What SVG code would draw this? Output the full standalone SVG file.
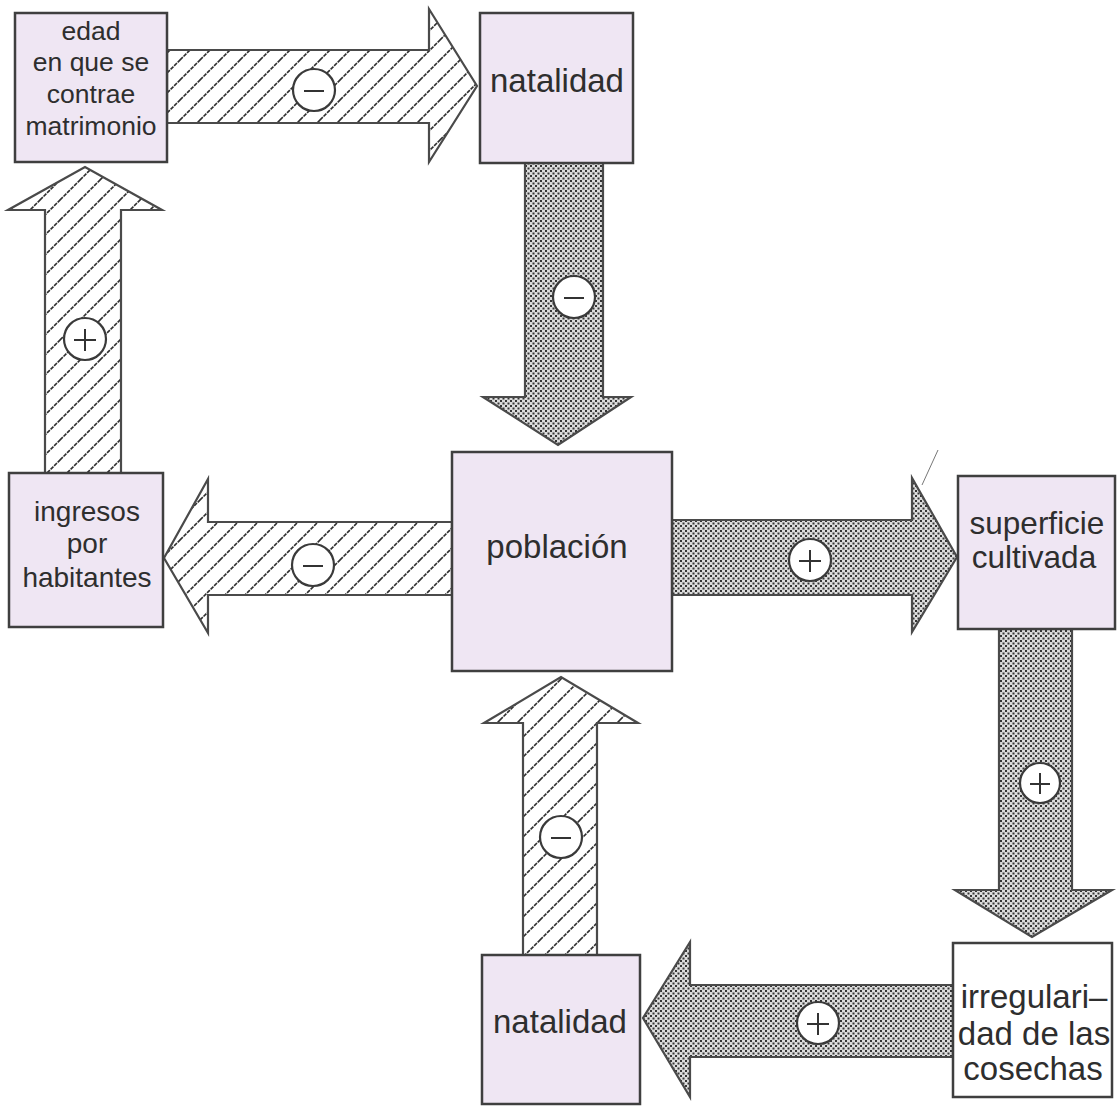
<svg xmlns="http://www.w3.org/2000/svg" width="1117" height="1106" viewBox="0 0 1117 1106">
  <defs>
    <!-- diagonal hatching for negative-effect arrows -->
    <pattern id="hatch" patternUnits="userSpaceOnUse" width="20" height="20">
      <rect width="20" height="20" fill="#ffffff"/>
      <path d="M-5,5 L5,-5 M0,20 L20,0 M15,25 L25,15" stroke="#2f2f2f" stroke-width="1.6" stroke-dasharray="4 1"/>
    </pattern>
    <!-- dotted screen for positive-effect arrows -->
    <pattern id="dots" patternUnits="userSpaceOnUse" width="5" height="5">
      <rect width="5" height="5" fill="#dcdcdc"/>
      <rect x="0" y="0" width="2" height="2" fill="#353535"/>
      <rect x="2.5" y="2.5" width="2" height="2" fill="#353535"/>
    </pattern>
    <style>
      .box { fill: #efe6f3; stroke: #3f3f3f; stroke-width: 2.5; }
      .box.plain { fill: #ffffff; }
      .lbl { font-family: "Liberation Sans", Arial, sans-serif; fill: #2e2e2e; text-anchor: middle; }
      .arrow { stroke: #4a4a4a; stroke-width: 2.2; stroke-linejoin: miter; }
      .hatched { fill: url(#hatch); }
      .dotted { fill: url(#dots); }
      .sign circle { fill: #ffffff; stroke: #3a3a3a; stroke-width: 2.2; }
      .sign path { stroke: #333333; stroke-width: 2; fill: none; }
    </style>
  </defs>

  <rect width="1117" height="1106" fill="#ffffff"/>

  <!-- connectors: broad arrows with their sign discs -->
  <g id="connectors">
    <!-- edad -> natalidad (top) -->
    <polygon class="arrow hatched" points="167,50 429,50 429,9 477,86 429,162 429,123 167,123"/>
    <!-- natalidad (top) -> poblacion -->
    <polygon class="arrow dotted" points="525,163 603,163 603,397 631,397 558,445 483,397 525,397"/>
    <!-- poblacion -> superficie cultivada -->
    <polygon class="arrow dotted" points="672,520 912,520 912,478 957,557 912,632 912,595 672,595"/>
    <!-- superficie cultivada -> irregularidad -->
    <polygon class="arrow dotted" points="999,629 1072,629 1072,890 1112,890 1032,937 955,890 999,890"/>
    <!-- irregularidad -> natalidad (bottom) -->
    <polygon class="arrow dotted" points="953,985 690,985 690,942 643,1018 690,1097 690,1057 953,1057"/>
    <!-- natalidad (bottom) -> poblacion -->
    <polygon class="arrow hatched" points="523,955 523,723 484,723 561,677 638,723 597,723 597,955"/>
    <!-- poblacion -> ingresos -->
    <polygon class="arrow hatched" points="452,522 208,522 208,479 164,558 208,633 208,595 452,595"/>
    <!-- ingresos -> edad -->
    <polygon class="arrow hatched" points="45,473 45,210 8,210 85,167 162,210 121,210 121,473"/>

    <g class="sign"><circle cx="314" cy="90" r="21"/><path d="M304,91 H324"/></g>
    <g class="sign"><circle cx="574" cy="297" r="21"/><path d="M564,298 H584"/></g>
    <g class="sign"><circle cx="810" cy="560" r="21"/><path d="M799,561 H821 M810,550 V572"/></g>
    <g class="sign"><circle cx="1040" cy="783" r="20"/><path d="M1030,784 H1050 M1040,773 V794"/></g>
    <g class="sign"><circle cx="818" cy="1023" r="21"/><path d="M807,1024 H829 M818,1013 V1035"/></g>
    <g class="sign"><circle cx="561" cy="837" r="21"/><path d="M551,838 H571"/></g>
    <g class="sign"><circle cx="313" cy="565" r="21"/><path d="M303,566 H323"/></g>
    <g class="sign"><circle cx="85" cy="339" r="21"/><path d="M74,340 H96 M85,329 V351"/></g>

    <!-- stray pen stroke above the right arrow head -->
    <path d="M922,485 L938,450" stroke="#777777" stroke-width="1" fill="none"/>
  </g>

  <g id="node-edad">
    <rect class="box" x="15" y="13" width="152" height="149"/>
    <text class="lbl" font-size="26.5" x="91" y="40">edad</text>
    <text class="lbl" font-size="26.5" x="91" y="71">en que se</text>
    <text class="lbl" font-size="26.5" x="91" y="103">contrae</text>
    <text class="lbl" font-size="26.5" x="91" y="135">matrimonio</text>
  </g>

  <g id="node-natalidad-top">
    <rect class="box" x="480" y="13" width="153" height="150"/>
    <text class="lbl" font-size="33" x="557" y="92">natalidad</text>
  </g>

  <g id="node-poblacion">
    <rect class="box" x="452" y="452" width="220" height="219"/>
    <text class="lbl" font-size="33" x="557" y="558">población</text>
  </g>

  <g id="node-ingresos">
    <rect class="box" x="9" y="473" width="154" height="154"/>
    <text class="lbl" font-size="28" x="87" y="521">ingresos</text>
    <text class="lbl" font-size="28" x="87" y="553">por</text>
    <text class="lbl" font-size="28" x="87" y="587">habitantes</text>
  </g>

  <g id="node-superficie">
    <rect class="box" x="958" y="476" width="157" height="153"/>
    <text class="lbl" font-size="31.5" x="1037" y="534">superficie</text>
    <text class="lbl" font-size="31.5" x="1034" y="568">cultivada</text>
  </g>

  <g id="node-irregularidad">
    <rect class="box plain" x="953" y="943" width="159" height="154"/>
    <text class="lbl" font-size="33" x="1034" y="1008">irregulari–</text>
    <text class="lbl" font-size="33" x="1034" y="1045">dad de las</text>
    <text class="lbl" font-size="33" x="1033" y="1080">cosechas</text>
  </g>

  <g id="node-natalidad-bottom">
    <rect class="box" x="482" y="955" width="158" height="149"/>
    <text class="lbl" font-size="33" x="560" y="1033">natalidad</text>
  </g>
</svg>
